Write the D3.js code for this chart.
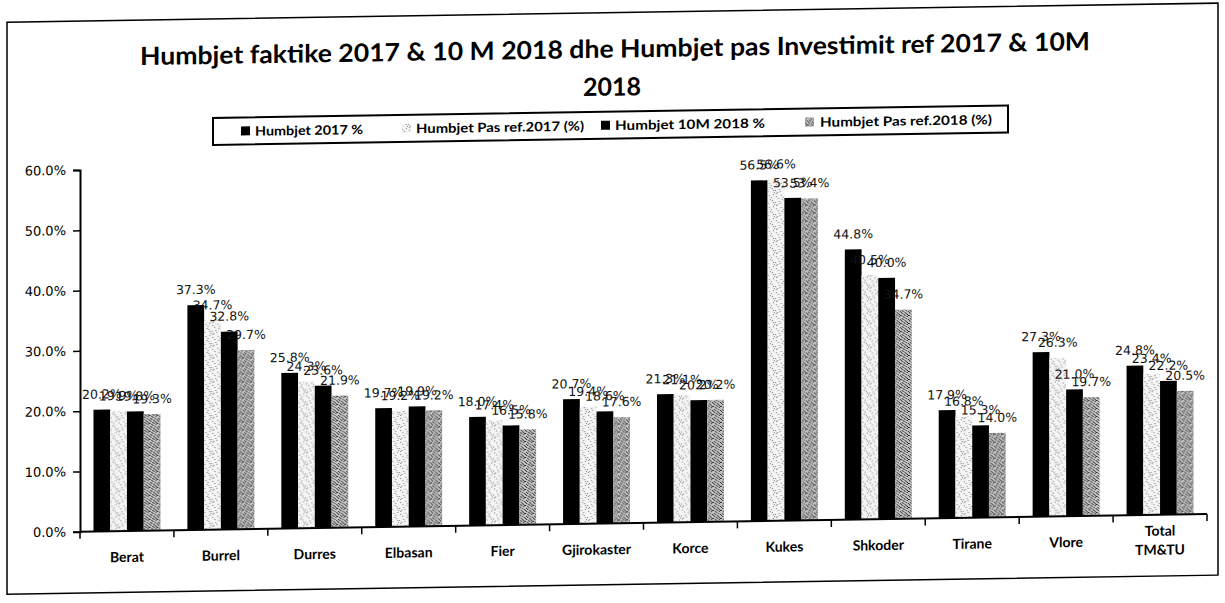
<!DOCTYPE html>
<html><head><meta charset="utf-8">
<script src="https://cdn.jsdelivr.net/npm/d3@7"></script>
<style>html,body{margin:0;padding:0;background:#fff;}svg{display:block;}</style>
</head><body>
<script>
// ---- data ----
const categories = ["Berat","Burrel","Durres","Elbasan","Fier","Gjirokaster","Korce","Kukes","Shkoder","Tirane","Vlore","Total\nTM&TU"];
const seriesNames = ["Humbjet 2017 %","Humbjet Pas ref.2017 (%)","Humbjet 10M 2018 %","Humbjet Pas ref.2018 (%)"];
const humbjet2017   = [20.2,37.3,25.8,19.7,18.0,20.7,21.3,56.5,44.8,17.9,27.3,24.8];
const pasRef2017    = [19.9,34.7,24.3,19.2,17.4,19.4,21.1,56.6,40.5,16.8,26.3,23.4];
const humbjet10M2018= [19.8,32.8,23.6,19.9,16.5,18.6,20.2,53.5,40.0,15.3,21.0,22.2];
const pasRef2018    = [19.3,29.7,21.9,19.2,15.8,17.6,20.2,53.4,34.7,14.0,19.7,20.5];
const yTicks = [0,10,20,30,40,50,60];
const titleLines = ["Humbjet faktike 2017 & 10 M 2018 dhe Humbjet pas Investimit ref 2017 & 10M","2018"];

const seriesValues = [humbjet2017,pasRef2017,humbjet10M2018,pasRef2018];
const W=1225,H=603;
const svg=d3.select("body").append("svg").attr("width",W).attr("height",H);
const defs=svg.append("defs");

// stipple patterns (fixed dot layouts)
function makePattern(id,bg,dotColor,dots,size){
  const p=defs.append("pattern").attr("id",id).attr("patternUnits","userSpaceOnUse").attr("width",size).attr("height",size);
  p.append("rect").attr("width",size).attr("height",size).attr("fill",bg);
  dots.forEach(d=>p.append("rect").attr("x",d[0]).attr("y",d[1]).attr("width",1).attr("height",1).attr("fill",dotColor));
}
makePattern("light","#f4f4f4","#7a7a7a",[[1,0],[6,2],[3,5],[9,7],[0,9],[5,10],[10,1],[8,4],[2,11],[11,11],[4,8],[7,6],[1,3],[10,9]],12);
makePattern("dense","#c4c4c4","#222",[[0,0],[2,1],[4,0],[1,3],[3,2],[5,3],[0,5],[2,4],[4,5],[1,6],[3,7],[5,6],[6,1],[7,4],[6,7],[7,0]],8);
const fills=["#000","url(#light)","#000","url(#dense)"];

const t=Math.tan(-0.9*Math.PI/180);
const g=svg.append("g").attr("transform",`translate(0,${-t*80}) skewY(-0.9)`);

// frame
g.append("rect").attr("x",7).attr("y",21).attr("width",1211).attr("height",572)
  .attr("fill","none").attr("stroke","#000").attr("stroke-width",1.5);

// title
const titleFont="Lato, 'Open Sans', 'Liberation Sans', sans-serif";
g.append("text").attr("x",140).attr("y",66).attr("textLength",950).attr("lengthAdjust","spacingAndGlyphs")
  .attr("font-family",titleFont).attr("font-weight","bold").attr("font-size",25).text(titleLines[0]);
g.append("text").attr("x",612).attr("y",104).attr("text-anchor","middle")
  .attr("font-family",titleFont).attr("font-weight","bold").attr("font-size",25).text(titleLines[1]);

// legend
g.append("rect").attr("x",213).attr("y",120).attr("width",795).attr("height",27)
  .attr("fill","#fff").attr("stroke","#000").attr("stroke-width",2);
const legX=[[241,255,108],[402,416,168],[601,615,150],[805,820,172]];
seriesNames.forEach((n,i)=>{
  g.append("rect").attr("x",legX[i][0]).attr("y",129).attr("width",9).attr("height",9).attr("fill",fills[i]);
  g.append("text").attr("x",legX[i][1]).attr("y",138.5).attr("textLength",legX[i][2]).attr("lengthAdjust","spacingAndGlyphs")
    .attr("font-family",titleFont).attr("font-weight","bold").attr("font-size",13).text(n);
});

// scales
const x0=d3.scaleBand().domain(categories).range([80,1207]).paddingInner(0.287).paddingOuter(0.1435);
const x1=d3.scaleBand().domain(d3.range(4)).range([0,x0.bandwidth()]);
const y=d3.scaleLinear().domain([0,60]).range([531.7,170]);

// bars
const groups=g.append("g").selectAll("g").data(categories).join("g")
  .attr("transform",d=>`translate(${x0(d)},0)`);
groups.selectAll("rect").data((d,ci)=>seriesValues.map((s,si)=>({si,v:s[ci]}))).join("rect")
  .attr("x",d=>x1(d.si)).attr("width",x1.bandwidth())
  .attr("y",d=>y(d.v)).attr("height",d=>y(0)-y(d.v)).attr("fill",d=>fills[d.si]);
groups.selectAll("text").data((d,ci)=>seriesValues.map((s,si)=>({si,v:s[ci]}))).join("text")
  .attr("x",d=>x1(d.si)+x1.bandwidth()/2).attr("y",d=>y(d.v)-11)
  .attr("text-anchor","middle").attr("font-family","'DejaVu Sans', Verdana, sans-serif").attr("font-size",12.5)
  .attr("fill","#111").text(d=>d.v.toFixed(1)+"%");

// y axis
const yAxis=d3.axisLeft(y).tickValues(yTicks).tickSize(7).tickFormat(d=>d.toFixed(1)+"%");
const ya=g.append("g").attr("transform","translate(80,0)").call(yAxis);
ya.select(".domain").attr("stroke","#000").attr("stroke-width",2);
ya.selectAll(".tick line").attr("stroke","#000").attr("stroke-width",1.5);
ya.selectAll(".tick text").attr("font-family","'DejaVu Sans', Verdana, sans-serif").attr("font-size",13).attr("fill","#000").attr("x",-14);

// x axis
const xa=g.append("g").attr("transform",`translate(0,${y(0)})`);
xa.append("line").attr("x1",80).attr("x2",1207).attr("stroke","#000").attr("stroke-width",2);
const bounds=d3.range(categories.length+1).map(i=>80+i*x0.step());
xa.selectAll("line.tk").data(bounds).join("line").attr("class","tk")
  .attr("x1",d=>d).attr("x2",d=>d).attr("y1",0).attr("y2",7).attr("stroke","#000").attr("stroke-width",1.5);
xa.selectAll("text").data(categories).join("text")
  .attr("x",d=>x0(d)+x0.bandwidth()/2).attr("text-anchor","middle")
  .attr("font-family",titleFont).attr("font-weight","bold").attr("font-size",14)
  .each(function(d){
    const lines=d.split("\n");
    const sel=d3.select(this);
    lines.forEach((l,i)=>sel.append("tspan").attr("x",x0(d)+x0.bandwidth()/2)
      .attr("y",(lines.length===1?31:21+i*19)).text(l));
  });
</script>
</body></html>
